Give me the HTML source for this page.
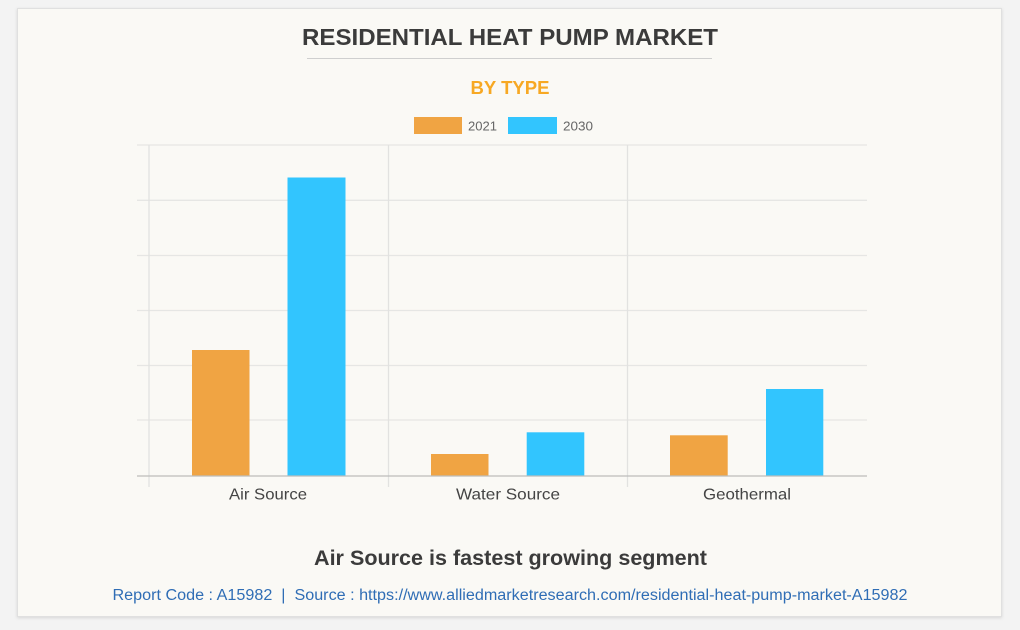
<!DOCTYPE html>
<html>
<head>
<meta charset="utf-8">
<style>
html,body{margin:0;padding:0;background:#f3f3f3;}
body{width:1020px;height:630px;overflow:hidden;}
svg{display:block;}
text{font-family:"Liberation Sans",Arial,sans-serif;}
</style>
</head>
<body>
<svg width="1020" height="630" viewBox="0 0 1020 630" xmlns="http://www.w3.org/2000/svg">
  <defs>
    <filter id="sh" x="-5%" y="-5%" width="110%" height="110%">
      <feDropShadow dx="0" dy="1" stdDeviation="1.5" flood-color="#000" flood-opacity="0.12"/>
    </filter>
  </defs>
  <rect x="0" y="0" width="1020" height="630" fill="#f3f3f3"/>
  <rect x="17.5" y="8.5" width="984" height="608" fill="#faf9f5" stroke="#e0e0e0" stroke-width="1" filter="url(#sh)"/>

  <!-- Title -->
  <text x="510" y="45" text-anchor="middle" font-size="23" font-weight="bold" fill="#3b3b3b" textLength="416" lengthAdjust="spacingAndGlyphs">RESIDENTIAL HEAT PUMP MARKET</text>
  <line x1="307" y1="58.5" x2="712" y2="58.5" stroke="#cfcfcf" stroke-width="1"/>
  <text x="510" y="94" text-anchor="middle" font-size="18" font-weight="bold" fill="#f7a823" textLength="79" lengthAdjust="spacingAndGlyphs">BY TYPE</text>

  <!-- Legend -->
  <rect x="414" y="117" width="48" height="17" fill="#f0a443"/>
  <text x="468" y="130.5" font-size="13" fill="#666" textLength="29" lengthAdjust="spacingAndGlyphs">2021</text>
  <rect x="508" y="117" width="49" height="17" fill="#32c5fe"/>
  <text x="563" y="130.5" font-size="13" fill="#666" textLength="30" lengthAdjust="spacingAndGlyphs">2030</text>

  <!-- Gridlines -->
  <g stroke="#e6e6e4" stroke-width="1.3">
    <line x1="137" y1="145" x2="867" y2="145"/>
    <line x1="137" y1="200.3" x2="867" y2="200.3"/>
    <line x1="137" y1="255.5" x2="867" y2="255.5"/>
    <line x1="137" y1="310.5" x2="867" y2="310.5"/>
    <line x1="137" y1="365.5" x2="867" y2="365.5"/>
    <line x1="137" y1="420" x2="867" y2="420"/>
  </g>
  <g stroke="#e2e2e0" stroke-width="1.3">
    <line x1="149" y1="145" x2="149" y2="487"/>
    <line x1="388.5" y1="145" x2="388.5" y2="487"/>
    <line x1="627.5" y1="145" x2="627.5" y2="487"/>
  </g>

  <!-- Bars -->
  <rect x="192" y="350" width="57.5" height="126" fill="#f0a443"/>
  <rect x="287.5" y="177.5" width="58" height="298.5" fill="#32c5fe"/>
  <rect x="431" y="454" width="57.5" height="22" fill="#f0a443"/>
  <rect x="526.7" y="432.3" width="57.6" height="43.7" fill="#32c5fe"/>
  <rect x="670" y="435.3" width="57.7" height="40.7" fill="#f0a443"/>
  <rect x="766" y="389" width="57.3" height="87" fill="#32c5fe"/>

  <!-- Axis -->
  <line x1="137" y1="476" x2="867" y2="476" stroke="#bdbdbb" stroke-width="1.3"/>

  <!-- Category labels -->
  <g font-size="16" fill="#444" text-anchor="middle">
    <text x="268" y="499.5" textLength="78" lengthAdjust="spacingAndGlyphs">Air Source</text>
    <text x="508" y="499.5" textLength="104" lengthAdjust="spacingAndGlyphs">Water Source</text>
    <text x="747" y="499.5" textLength="88" lengthAdjust="spacingAndGlyphs">Geothermal</text>
  </g>

  <!-- Bottom text -->
  <text x="510.5" y="565" text-anchor="middle" font-size="21" font-weight="bold" fill="#3b3b3b" textLength="393" lengthAdjust="spacingAndGlyphs">Air Source is fastest growing segment</text>
  <text x="510" y="600" text-anchor="middle" font-size="15.5" fill="#2f6db5" textLength="795" lengthAdjust="spacingAndGlyphs" xml:space="preserve">Report Code : A15982  |  Source : https://www.alliedmarketresearch.com/residential-heat-pump-market-A15982</text>
</svg>
</body>
</html>
